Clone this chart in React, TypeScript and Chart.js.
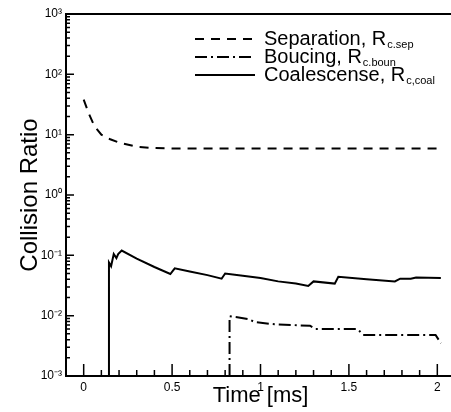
import React, { useEffect, useRef } from "react";
import { Chart, registerables } from "chart.js";
Chart.register(...registerables);

const seriesNames = ["Separation, R", "Boucing, R", "Coalescense, R"];
const seriesSubs = ["c.sep", "c.boun", "c,coal"];

const sepT = [0, 0.03, 0.06, 0.1, 0.15, 0.2, 0.3, 0.4, 0.5, 0.75, 1.0, 1.25, 1.5, 1.75, 2.0];
const sepV = [38, 22, 14, 10, 8.4, 7.4, 6.3, 6.0, 5.9, 5.9, 5.9, 5.9, 5.9, 5.9, 5.9];

const bounT = [0.825, 0.825, 0.86, 0.93, 0.97, 1.08, 1.28, 1.31, 1.55, 1.58, 1.99, 2.02];
const bounV = [0.001, 0.0098, 0.0095, 0.0088, 0.0078, 0.0072, 0.0068, 0.006, 0.006, 0.0048, 0.0048, 0.0035];

const coalT = [0.143, 0.143, 0.155, 0.17, 0.185, 0.195, 0.215, 0.3, 0.4, 0.49, 0.515, 0.6, 0.7, 0.78, 0.8, 0.9, 1.0, 1.1, 1.2, 1.27, 1.3, 1.42, 1.44, 1.6, 1.76, 1.79, 1.85, 1.88, 2.02];
const coalV = [0.001, 0.076, 0.066, 0.105, 0.09, 0.105, 0.12, 0.088, 0.064, 0.049, 0.061, 0.054, 0.047, 0.041, 0.05, 0.046, 0.042, 0.037, 0.034, 0.031, 0.037, 0.034, 0.044, 0.04, 0.037, 0.041, 0.041, 0.043, 0.042];

const xTickValues = [0, 0.5, 1, 1.5, 2];
const xTickLabels = ["0", "0.5", "1", "1.5", "2"];
const yTickValues = [1e-3, 1e-2, 1e-1, 1, 10, 100, 1000];
const yTickLabels = ["10⁻³", "10⁻²", "10⁻¹", "10⁰", "10¹", "10²", "10³"];

const FONT = "'Liberation Sans', Arial, Helvetica, sans-serif";

const dashes = [[9, 7], [12, 4, 2, 4], []];

const framePlugin = {
  id: "frameTicks",
  afterDraw(chart: any) {
    const ctx = chart.ctx;
    const { left, right, top, bottom } = chart.chartArea;
    const xs = chart.scales.x;
    const ys = chart.scales.y;
    ctx.save();
    ctx.strokeStyle = "#000";
    ctx.lineWidth = 2;
    ctx.beginPath();
    ctx.moveTo(left, top);
    ctx.lineTo(right, top);
    ctx.moveTo(left, top - 1);
    ctx.lineTo(left, bottom + 1);
    ctx.moveTo(left, bottom);
    ctx.lineTo(right, bottom);
    ctx.stroke();
    ctx.lineWidth = 1.5;
    ctx.beginPath();
    for (let d = -3; d <= 3; d++) {
      const y = ys.getPixelForValue(Math.pow(10, d));
      ctx.moveTo(left, y);
      ctx.lineTo(left + 8, y);
      if (d < 3) {
        for (let k = 2; k <= 9; k++) {
          const yy = ys.getPixelForValue(k * Math.pow(10, d));
          ctx.moveTo(left, yy);
          ctx.lineTo(left + 4, yy);
        }
      }
    }
    for (let i = 0; i <= 21; i++) {
      const v = i / 10;
      const x = xs.getPixelForValue(v);
      const major = i % 5 === 0;
      ctx.moveTo(x, bottom);
      ctx.lineTo(x, bottom - (major ? 12 : 6));
    }
    ctx.stroke();

    // legend
    const lx0 = 195, lx1 = 255, tx = 264;
    const rows = [39, 57, 75];
    chart.data.datasets.forEach((ds: any, i: number) => {
      const y = rows[i];
      ctx.lineWidth = 2;
      ctx.setLineDash(ds.borderDash || []);
      ctx.beginPath();
      ctx.moveTo(lx0, y);
      ctx.lineTo(lx1, y);
      ctx.stroke();
      ctx.setLineDash([]);
      ctx.fillStyle = "#000";
      ctx.textBaseline = "middle";
      ctx.textAlign = "left";
      ctx.font = `20px ${FONT}`;
      ctx.fillText(seriesNames[i], tx, y);
      const w = ctx.measureText(seriesNames[i]).width;
      ctx.font = `11px ${FONT}`;
      ctx.fillText(seriesSubs[i], tx + w + 1, y + 6);
    });
    ctx.restore();
  },
};

export default function App() {
  const ref = useRef<HTMLCanvasElement | null>(null);
  useEffect(() => {
    if (!ref.current) return;
    const mk = (t: number[], v: number[]) => t.map((x, i) => ({ x, y: v[i] }));
    const chart = new Chart(ref.current, {
      type: "line",
      data: {
        datasets: [
          { label: seriesNames[0], data: mk(sepT, sepV), borderColor: "#000", borderWidth: 2, borderDash: dashes[0], pointRadius: 0, fill: false, tension: 0 },
          { label: seriesNames[1], data: mk(bounT, bounV), borderColor: "#000", borderWidth: 2, borderDash: dashes[1], pointRadius: 0, fill: false, tension: 0 },
          { label: seriesNames[2], data: mk(coalT, coalV), borderColor: "#000", borderWidth: 2, borderDash: dashes[2], pointRadius: 0, fill: false, tension: 0 },
        ],
      },
      options: {
        responsive: false,
        animation: false,
        events: [],
        layout: { padding: { top: 14, right: 1, left: 0, bottom: 0 } },
        plugins: { legend: { display: false }, tooltip: { enabled: false } },
        scales: {
          x: {
            type: "linear",
            min: -0.1,
            max: 2.1,
            grid: { display: false, drawTicks: false },
            border: { display: false },
            afterBuildTicks: (s: any) => { s.ticks = xTickValues.map((value) => ({ value })); },
            afterFit: (s: any) => { s.height = 36; },
            ticks: {
              color: "#000",
              padding: 4,
              maxRotation: 0,
              autoSkip: false,
              font: { family: FONT, size: 12 },
              callback: (v: any) => { const i = xTickValues.indexOf(Number(v)); return i >= 0 ? xTickLabels[i] : ""; },
            },
            title: { display: true, text: "Time [ms]", color: "#000", font: { family: FONT, size: 22 }, padding: { top: 0, bottom: 3 } },
          },
          y: {
            type: "logarithmic",
            min: 1e-3,
            max: 1e3,
            grid: { display: false, drawTicks: false },
            border: { display: false },
            afterBuildTicks: (s: any) => { s.ticks = yTickValues.map((value) => ({ value })); },
            afterFit: (s: any) => { s.width = 66; },
            ticks: {
              color: "#000",
              padding: 4,
              autoSkip: false,
              font: { family: FONT, size: 12 },
              callback: (v: any) => { const i = yTickValues.findIndex((t) => Math.abs(t - Number(v)) / t < 1e-6); return i >= 0 ? yTickLabels[i] : ""; },
            },
            title: { display: true, text: "Collision Ratio", color: "#000", font: { family: FONT, size: 24 }, padding: { top: 16, bottom: 0 } },
          },
        },
      },
      plugins: [framePlugin],
    } as any);
    return () => chart.destroy();
  }, []);
  return (
    <div style={{ position: "absolute", left: 0, top: 0, width: 451, height: 412, overflow: "hidden", background: "#fff" }}>
      <canvas ref={ref} width={456} height={412} style={{ display: "block" }} />
    </div>
  );
}
